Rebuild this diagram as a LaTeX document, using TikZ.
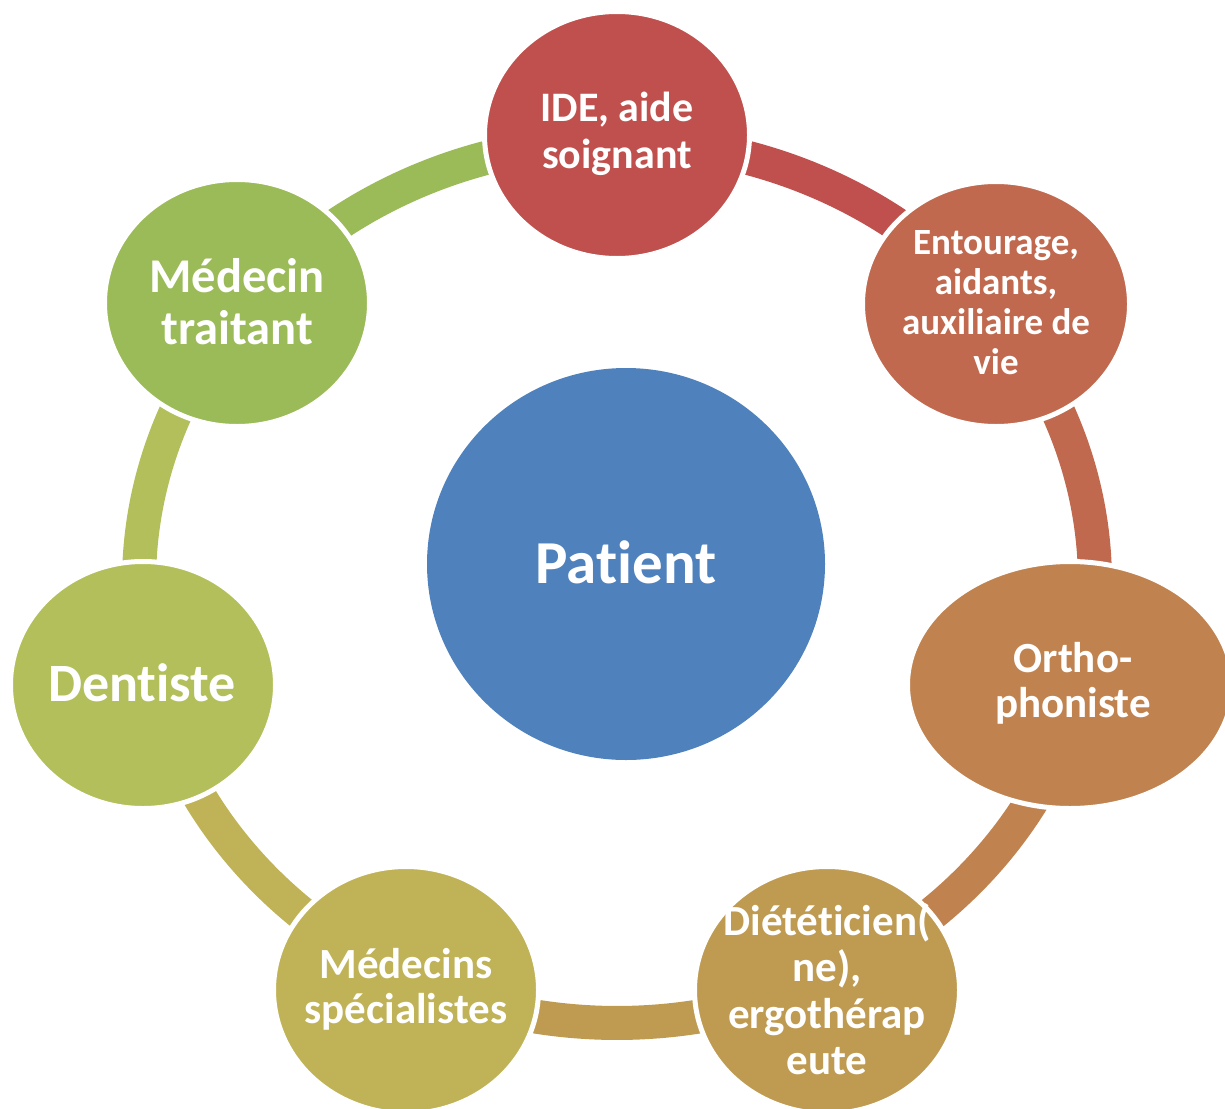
\documentclass[tikz,border=0pt]{standalone}
\usepackage{fontspec}
\setmainfont{Carlito}[Ligatures={NoCommon,NoContextual}]
\usetikzlibrary{shapes.geometric,backgrounds}
\definecolor{cIDE}{HTML}{C0504D}
\definecolor{cENT}{HTML}{C0694E}
\definecolor{cORT}{HTML}{C08350}
\definecolor{cDIE}{HTML}{BF9B52}
\definecolor{cMES}{HTML}{C0B357}
\definecolor{cDEN}{HTML}{B3BF5A}
\definecolor{cMET}{HTML}{9BBB59}
\definecolor{cPAT}{HTML}{4F81BD}
\newcommand{\fsz}[2]{\fontsize{#1}{#2}\selectfont\bfseries}
\begin{document}
\begin{tikzpicture}[x=1pt,y=1pt,
  bub/.style={ellipse, draw=white, line width=5pt, inner sep=0pt},
  lbl/.style={text=white, align=center, inner sep=0pt},
  band/.style={line width=34pt, line cap=butt},
  ring/.style={x radius=478, y radius=441}]
\useasboundingbox (0,-1108) rectangle (1225,0);
\clip (0,-1108) rectangle (1225,0);
% bubbles
\node[bub, fill=cIDE, minimum width=265pt, minimum height=247pt] (ide) at (617,-135) {};
\node[bub, fill=cENT, minimum width=267pt, minimum height=245pt] (ent) at (996,-304) {};
\node[bub, fill=cORT, minimum width=325pt, minimum height=247pt] (ort) at (1070,-685) {};
\node[bub, fill=cDIE, minimum width=265pt, minimum height=247pt] (die) at (827,-990) {};
\node[bub, fill=cMES, minimum width=265pt, minimum height=247pt] (mes) at (406,-990) {};
\node[bub, fill=cDEN, minimum width=265pt, minimum height=247pt] (den) at (143,-685) {};
\node[bub, fill=cMET, minimum width=265pt, minimum height=247pt] (met) at (237,-303) {};
\node[bub, fill=cPAT, draw=none, minimum width=398pt, minimum height=392pt] (pat) at (626,-564) {};
% ring positions under each bubble
\coordinate (ringc) at (617,-582);
\coordinate (ide-r) at ([shift={(90:478 and 441)}]ringc);
\coordinate (ent-r) at ([shift={(38.571:478 and 441)}]ringc);
\coordinate (ort-r) at ([shift={(-12.857:478 and 441)}]ringc);
\coordinate (die-r) at ([shift={(-64.286:478 and 441)}]ringc);
\coordinate (mes-r) at ([shift={(-115.714:478 and 441)}]ringc);
\coordinate (den-r) at ([shift={(-167.143:478 and 441)}]ringc);
\coordinate (met-r) at ([shift={(141.429:478 and 441)}]ringc);
% connecting ring segments
\begin{scope}[on background layer]
\draw[band, cIDE] (ide-r) arc[ring, start angle=90, end angle=38.571];
\draw[band, cENT] (ent-r) arc[ring, start angle=38.571, end angle=-12.857];
\draw[band, cORT] (ort-r) arc[ring, start angle=-12.857, end angle=-64.286];
\draw[band, cDIE] (die-r) arc[ring, start angle=-64.286, end angle=-115.714];
\draw[band, cMES] (mes-r) arc[ring, start angle=-115.714, end angle=-167.143];
\draw[band, cDEN] (den-r) arc[ring, start angle=192.857, end angle=141.429];
\draw[band, cMET] (met-r) arc[ring, start angle=141.429, end angle=90];
\end{scope}
% labels
\node[lbl, font=\fsz{42}{47}] (ide-t) at (617,-134) {IDE, aide\\soignant};
\node[lbl, font=\fsz{37}{40}] (ent-t) at (996,-303) {Entourage,\\aidants,\\auxiliaire de\\vie};
\node[lbl, font=\fsz{43}{45}] (ort-t) at (1073,-683) {Ortho-\\phoniste};
\node[lbl, font=\fsz{43}{46.5}] (die-t) at (827,-989) {Diététicien(\\ne),\\ergothérap\\eute};
\node[lbl, font=\fsz{43}{45}] (mes-t) at (406,-989) {Médecins\\spécialistes};
\node[lbl, font=\fsz{54}{60}] (den-t) at (142,-683) {Dentiste};
\node[lbl, font=\fsz{48.5}{52}] (met-t) at (237,-302) {Médecin\\traitant};
\node[lbl, font=\fsz{61}{66}] (pat-t) at (626,-562) {Patient};
\end{tikzpicture}
\end{document}
